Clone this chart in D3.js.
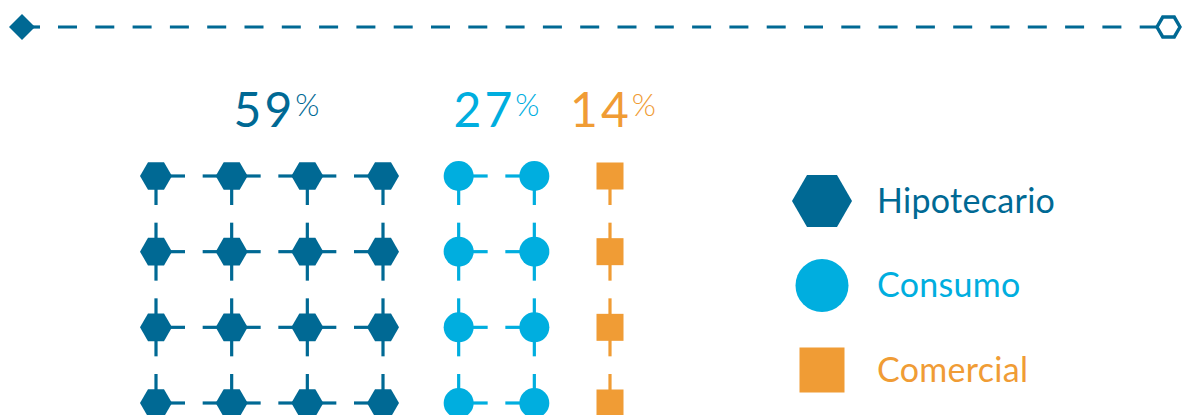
<!DOCTYPE html>
<html>
<head>
<meta charset="utf-8">
<script src="https://cdn.jsdelivr.net/npm/d3@7"></script>
<style>
  html, body { margin: 0; padding: 0; background: #ffffff; }
  svg { display: block; }
  text { font-family: Lato, "Open Sans", sans-serif; }
</style>
</head>
<body>
<svg id="chart" width="1182" height="415"></svg>
<script>
// ---- data ----
const categories = ["Hipotecario", "Consumo", "Comercial"];
const percentages = [59, 27, 14];
const columnsPerCategory = [4, 2, 1];
const rowsShown = 4;
const shapes = ["hexagon", "circle", "square"];

// ---- style ----
const colors = ["#006994", "#00AEDF", "#F09C35"];
const W = 1182, H = 415;
const svg = d3.select("#chart");

// ---- top decorative dashed line ----
const topY = 27;
const lineCol = "#006994";
svg.append("line")
  .attr("x1", 58).attr("x2", 1157).attr("y1", topY).attr("y2", topY)
  .attr("stroke", lineCol).attr("stroke-width", 3.2)
  .attr("stroke-dasharray", "19,18.3");
svg.append("line")
  .attr("x1", 30).attr("x2", 40).attr("y1", topY).attr("y2", topY)
  .attr("stroke", lineCol).attr("stroke-width", 3.2);
svg.append("path")
  .attr("d", `M9,${topY} L22,${topY-13} L35,${topY} L22,${topY+13} Z`)
  .attr("fill", lineCol);

function hexPath(cx, cy, r) {
  const pts = d3.range(6).map(i => {
    const a = Math.PI / 3 * i;
    return [cx + r * Math.cos(a), cy + r * Math.sin(a)];
  });
  return d3.line()(pts) + "Z";
}
svg.append("path")
  .attr("d", hexPath(1168.5, topY, 11.5))
  .attr("fill", "#fff").attr("stroke", lineCol).attr("stroke-width", 3.4);

// ---- grid of markers ----
const cells = [];
let col = 0;
categories.forEach((c, ci) => {
  for (let k = 0; k < columnsPerCategory[ci]; k++) {
    for (let r = 0; r < rowsShown; r++) {
      cells.push({cat: ci, col: col, row: r, k: k, n: columnsPerCategory[ci]});
    }
    col++;
  }
});
const totalCols = col;

const x = d3.scalePoint().domain(d3.range(totalCols)).range([156, 610]);
const y = d3.scalePoint().domain(d3.range(rowsShown)).range([176, 403]);
const arm = 29;

const gArms = svg.append("g");
cells.forEach(d => {
  const cx = x(d.col), cy = y(d.row);
  const color = colors[d.cat];
  const sw = 3.2;
  const segs = [];
  if (d.k > 0) segs.push([cx - arm, cy, cx, cy]);
  if (d.k < d.n - 1) segs.push([cx, cy, cx + arm, cy]);
  if (d.row > 0) segs.push([cx, cy - arm, cx, cy]);
  segs.push([cx, cy, cx, cy + arm]);
  segs.forEach(s => {
    gArms.append("line")
      .attr("x1", s[0]).attr("y1", s[1]).attr("x2", s[2]).attr("y2", s[3])
      .attr("stroke", color).attr("stroke-width", sw);
  });
});

function drawShape(g, shape, cx, cy, size, color) {
  if (shape === "hexagon") {
    g.append("path").attr("d", hexPath(cx, cy, size)).attr("fill", color);
  } else if (shape === "circle") {
    g.append("circle").attr("cx", cx).attr("cy", cy).attr("r", size).attr("fill", color);
  } else {
    g.append("rect").attr("x", cx - size).attr("y", cy - size)
      .attr("width", size * 2).attr("height", size * 2).attr("fill", color);
  }
}

const gMarks = svg.append("g");
const markSize = [16, 15, 13.5];
cells.forEach(d => {
  drawShape(gMarks, shapes[d.cat], x(d.col), y(d.row), markSize[d.cat], colors[d.cat]);
});

// ---- percentage labels ----
let startCol = 0;
const labelOffsets = [7, 0, 3];
categories.forEach((c, ci) => {
  const endCol = startCol + columnsPerCategory[ci] - 1;
  const cxm = (x(startCol) + x(endCol)) / 2 + labelOffsets[ci];
  const t = svg.append("text")
    .attr("x", cxm).attr("y", 127)
    .attr("text-anchor", "middle")
    .attr("fill", colors[ci])
    .style("font-size", "48px");
  t.append("tspan").style("letter-spacing", "3px").text(percentages[ci]);
  t.append("tspan").attr("dy", -11).style("font-size", "31px").style("font-weight", "300").text("%");
  startCol = endCol + 1;
});

// ---- legend ----
const legendY = d3.scalePoint().domain(d3.range(categories.length)).range([201, 370]);
const legendSize = [30, 26.5, 22.5];
categories.forEach((c, ci) => {
  const cy = legendY(ci);
  drawShape(svg, shapes[ci], 822, cy, legendSize[ci], colors[ci]);
  svg.append("text")
    .attr("x", 877).attr("y", cy + 11.5)
    .attr("fill", colors[ci])
    .style("font-size", "34px")
    .style("letter-spacing", "0.3px")
    .text(c);
});
</script>
</body>
</html>
